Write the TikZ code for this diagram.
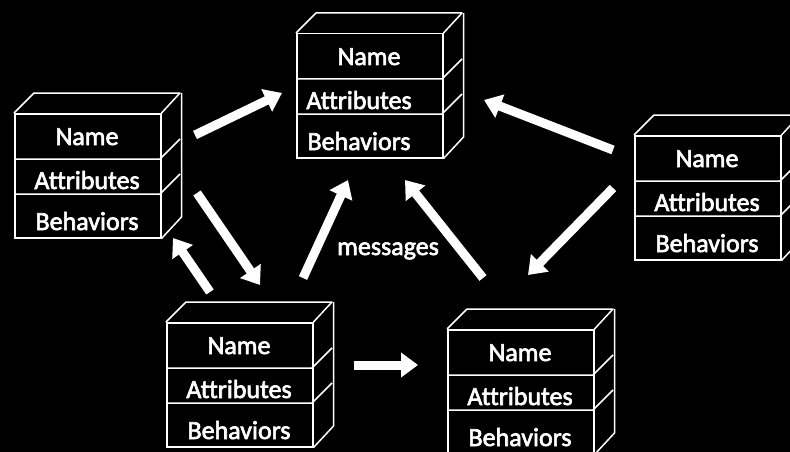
\documentclass[tikz,border=0pt]{standalone}
\usepackage{fontspec}
\setmainfont{Carlito}[Ligatures=NoCommon, FakeBold=2.5]
\usetikzlibrary{arrows.meta}
\tikzset{
  boxline/.style={draw=white, line width=1.5pt},
  boxfront/.style={boxline, minimum width=146pt, minimum height=124pt, anchor=north west, inner sep=0pt},
  lbl/.style={anchor=base, text=white, inner sep=0pt, font=\fontsize{26}{30}\selectfont},
  bigarrow/.style={draw=white, line width=9pt, -{Triangle[width=24pt,length=17pt]}},
}
\newcommand\objbox[4]{%
  \node[boxfront] (#1) at (#2,#3) {};
  \draw[boxline] ({#2},{#3+46}) -- ({#2+146},{#3+46}) -- ++(20,-20);
  \draw[boxline] ({#2},{#3+81}) -- ({#2+146},{#3+81}) -- ++(20,-20);
  \draw[boxline, line join=round] (#1.north west) -- ++(20,-20) -- ++(146,0) -- (#1.north east);
  \draw[boxline, line join=round] ([shift={(20,-20)}]#1.north east) -- ++(0,124) -- (#1.south east);
  \node[lbl] (#1n) at ({#2+73},{#3+32}) {Name};
  \node[lbl] (#1a) at ({#2+73+#4},{#3+76}) {Attributes};
  \node[lbl] (#1b) at ({#2+73+#4},{#3+117}) {Behaviors};
}
\begin{document}
\begin{tikzpicture}[x=1pt, y=-1pt]
  \fill[black] (0,0) rectangle (790,452);
  \useasboundingbox (0,0) rectangle (790,452);
  \objbox{b1}{296}{33}{-10}
  \objbox{b2}{14}{113}{0}
  \objbox{b3}{634}{135}{0}
  \objbox{b4}{166}{322}{0}
  \objbox{b5}{447}{329}{0}
  \coordinate (a1s) at (195,135); \coordinate (a1e) at (282,93);
  \coordinate (a2s) at (613,150); \coordinate (a2e) at (484,100);
  \coordinate (a3s) at (613,188); \coordinate (a3e) at (528,275);
  \coordinate (a4s) at (354,365); \coordinate (a4e) at (418,365);
  \coordinate (a5s) at (210,292); \coordinate (a5e) at (173,238);
  \coordinate (a6s) at (197,193); \coordinate (a6e) at (260,285);
  \coordinate (a7s) at (303,278); \coordinate (a7e) at (348,180);
  \coordinate (a8s) at (483,278); \coordinate (a8e) at (405,180);
  \foreach \i in {1,...,8} { \draw[bigarrow] (a\i s) -- (a\i e); }
  \node[lbl, anchor=base west] (msg) at (337,255) {messages};
\end{tikzpicture}
\end{document}
